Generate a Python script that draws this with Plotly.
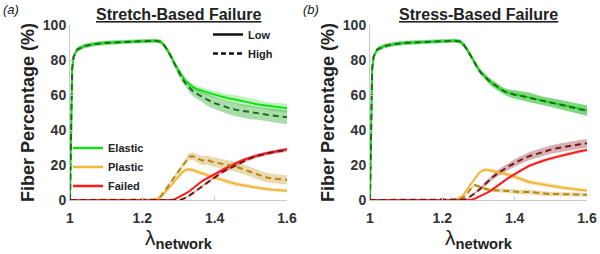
import numpy as np
import plotly.graph_objects as go

# ---------------- data ----------------
lam = [1.0, 1.003, 1.006, 1.01, 1.02, 1.04, 1.07, 1.1, 1.15, 1.2, 1.235, 1.25, 1.26, 1.27,
       1.28, 1.29, 1.3, 1.31, 1.32, 1.33, 1.34, 1.35, 1.36, 1.37, 1.38, 1.39, 1.4, 1.42,
       1.44, 1.46, 1.48, 1.5, 1.52, 1.54, 1.56, 1.58, 1.6]
x_ticks = [1, 1.2, 1.4, 1.6]
x_tick_text = ["1", "1.2", "1.4", "1.6"]
y_ticks = [0, 20, 40, 60, 80, 100]
components = ["Elastic", "Plastic", "Failed"]
levels = ["Low", "High"]
panel_titles = ["Stretch-Based Failure", "Stress-Based Failure"]
panel_tags = ["(a)", "(b)"]

# (a) Stretch-based failure
a_elastic_low = [0, 45, 75, 82, 86, 88, 89.2, 89.8, 90.4, 90.8, 91, 90.5, 88.5, 85.5, 82, 77.5,
                 74, 71, 68, 66, 64.5, 63.5, 62.7, 62.2, 61.5, 60.8, 60.2, 59.2, 58, 57.3, 56.2,
                 55.5, 54.6, 54, 53.2, 52.8, 52.4]
a_elastic_high = [0, 45, 75, 82, 86, 88, 89.2, 89.8, 90.4, 90.8, 91, 90.5, 88.5, 85.5, 81.5, 77,
                  73, 69.5, 66.5, 64, 62, 60.8, 59.5, 58.5, 57.3, 56.2, 55.3, 54, 52.5, 51.5,
                  50.8, 50, 49.5, 49, 48.3, 47.8, 47.3]
a_plastic_low = [0, 0, 0, 0, 0, 0, 0, 0, 0, 0, 0.2, 1.5, 3.5, 6, 8.5, 11, 13.5, 15.8, 17.3, 17.5,
                 17, 16.2, 15.6, 15, 14.2, 13.5, 12.8, 11.6, 10.2, 9.2, 8.3, 7.6, 7, 6.3, 5.9,
                 5.6, 5.3]
a_plastic_high = [0, 0, 0, 0, 0, 0, 0, 0, 0, 0, 0.3, 2, 4.5, 7.5, 10.5, 13.5, 16.5, 19.5, 22.5,
                  24.8, 25, 23.8, 23, 22.5, 22.8, 22, 21.5, 20.5, 19.8, 19, 17.5, 16.2, 14.5,
                  13, 12.3, 11.8, 11.5]
a_failed_low = [0, 0, 0, 0, 0, 0, 0, 0, 0, 0, 0, 0, 0, 0, 0, 0.5, 1.5, 2.5, 3.8, 5, 6.8, 8.5,
                10, 11.3, 12.6, 13.8, 14.8, 17, 19.3, 21.2, 23, 24.5, 25.6, 26.6, 27.5, 28.3, 29]
a_failed_high = [0, 0, 0, 0, 0, 0, 0, 0, 0, 0, 0, 0, 0, 0, 0, 0, 0, 0.5, 1.2, 2.5, 4, 5.5, 7,
                 8.7, 10.3, 11.8, 13, 15.8, 18, 20, 22.2, 24, 25.3, 26.5, 27.3, 28, 28.6]

# (b) Stress-based failure
b_elastic_low = [0, 45, 75, 82, 86, 88, 89.2, 89.8, 90.4, 90.8, 91, 90.5, 88.5, 85.5, 82, 78,
                 75, 72.3, 70, 68, 66.3, 64.8, 63.2, 62, 61.5, 61, 60.5, 59.8, 58.8, 57.6, 56.6,
                 55.6, 54.8, 54, 53, 52.2, 51.2]
b_elastic_high = [0, 45, 75, 82, 86, 88, 89.2, 89.8, 90.4, 90.8, 91, 90.5, 88.5, 85.5, 82, 77.8,
                  74.5, 72, 69.8, 68, 66.5, 65, 63.5, 62.3, 61.3, 60.7, 60.2, 59.4, 58.5, 57.4,
                  56.5, 55.8, 54.8, 53.7, 53, 52, 51]
b_plastic_low = [0, 0, 0, 0, 0, 0, 0, 0, 0, 0, 0.2, 1.5, 3.5, 6.5, 9.5, 12.5, 15, 16.8, 17.3, 17,
                 16.6, 16.2, 15.8, 15.2, 14.6, 14, 13.3, 11.6, 10.3, 9.5, 8.7, 8, 7.4, 6.8, 6.2,
                 5.8, 5.4]
b_plastic_high = [0, 0, 0, 0, 0, 0, 0, 0, 0, 0, 0, 0.5, 1.8, 4, 6.8, 8.5, 7.8, 6.8, 6, 5.7, 5.6,
                  5.6, 5.5, 5.3, 5.2, 5, 4.8, 4.5, 4.6, 4.2, 3.6, 3.4, 3.4, 3.3, 3.1, 3, 3]
b_failed_low = [0, 0, 0, 0, 0, 0, 0, 0, 0, 0, 0, 0, 0, 0, 0.2, 0.8, 1.7, 2.6, 3.6, 4.8, 6.2, 7.8,
                9.3, 10.8, 12.2, 13.5, 14.8, 17.2, 19.5, 21.2, 22.6, 23.8, 24.9, 26, 27, 27.8, 28.6]
b_failed_high = [0, 0, 0, 0, 0, 0, 0, 0, 0, 0, 0, 0, 0.3, 1, 2.2, 3.8, 5.5, 7.5, 9.5, 11.4, 13.2,
                 14.8, 16.3, 17.5, 18.8, 20, 21.2, 23.2, 25, 26.4, 27.7, 28.8, 29.7, 30.5, 31.2,
                 31.8, 32.4]

# spread (half-width of shaded band)
sd_elastic_low = [0, 0.5, 1, 1.2, 1.3, 1.3, 1.2, 1.2, 1.1, 1.1, 1.1, 1.2, 1.3, 1.3, 1.4, 1.4,
                  1.5, 1.5, 1.5, 1.6, 1.6, 1.7, 1.7, 1.8, 1.8, 1.9, 2.0, 2.1, 2.3, 2.5, 2.6, 2.4,
                  2.3, 2.2, 2.4, 2.5, 2.6]
sd_elastic_high = [0, 0.5, 1, 1.2, 1.3, 1.3, 1.2, 1.2, 1.1, 1.1, 1.1, 1.2, 1.3, 1.4, 1.5, 1.6,
                   1.8, 2.0, 2.2, 2.4, 2.6, 2.8, 3.0, 3.2, 3.4, 3.5, 3.6, 3.6, 3.7, 3.8, 3.9, 3.8,
                   3.6, 3.5, 3.7, 3.9, 4.0]
sd_elastic_b = [0, 0.5, 1, 1.2, 1.3, 1.3, 1.2, 1.2, 1.1, 1.1, 1.1, 1.2, 1.3, 1.3, 1.4, 1.4, 1.5,
                1.5, 1.6, 1.8, 2.0, 2.0, 1.8, 1.8, 2.0, 2.2, 2.4, 2.6, 2.8, 2.6, 2.4, 2.5, 2.6,
                2.7, 2.8, 2.9, 3.0]
sd_plastic_low = [0, 0, 0, 0, 0, 0, 0, 0, 0, 0, 0.1, 0.3, 0.5, 0.6, 0.7, 0.8, 0.9, 1.0, 1.0, 1.1,
                  1.1, 1.1, 1.2, 1.2, 1.2, 1.3, 1.3, 1.3, 1.3, 1.3, 1.3, 1.2, 1.2, 1.2, 1.1, 1.1, 1.0]
sd_plastic_high = [0, 0, 0, 0, 0, 0, 0, 0, 0, 0, 0.1, 0.4, 0.6, 0.8, 1.0, 1.2, 1.4, 1.6, 1.8,
                   2.0, 2.2, 2.4, 2.5, 2.6, 2.7, 2.7, 2.7, 2.7, 2.8, 2.8, 2.8, 2.7, 2.7, 2.7, 2.6,
                   2.6, 2.6]
sd_failed_low = [0, 0, 0, 0, 0, 0, 0, 0, 0, 0, 0, 0, 0, 0, 0, 0.2, 0.3, 0.4, 0.5, 0.5, 0.6, 0.6,
                 0.7, 0.7, 0.7, 0.8, 0.8, 0.8, 0.9, 0.9, 0.9, 1.0, 1.0, 1.0, 1.0, 1.0, 1.0]
sd_failed_high = [0, 0, 0, 0, 0, 0, 0, 0, 0, 0, 0, 0, 0.2, 0.3, 0.5, 0.7, 0.9, 1.1, 1.3, 1.5, 1.6,
                  1.7, 1.8, 1.9, 2.0, 2.0, 2.1, 2.2, 2.3, 2.3, 2.4, 2.4, 2.5, 2.5, 2.5, 2.5, 2.5]

# ---------------- style ----------------
line_col = {"Elastic": ("#12e012", "#1f6b1f"),
            "Plastic": ("#f2b63c", "#b8860b"),
            "Failed": ("#ff1a1a", "#7e1414")}
band_col = {"Elastic": ("rgba(60,220,60,0.35)", "rgba(40,170,40,0.40)"),
            "Plastic": ("rgba(235,185,70,0.35)", "rgba(200,160,60,0.40)"),
            "Failed": ("rgba(235,80,90,0.30)", "rgba(150,60,70,0.40)")}
FONT = "Liberation Sans, Arial, sans-serif"
DASH = "6px,4px"

panels = [
    {"Elastic": (a_elastic_low, a_elastic_high, sd_elastic_low, sd_elastic_high),
     "Plastic": (a_plastic_low, a_plastic_high, sd_plastic_low, sd_plastic_high),
     "Failed": (a_failed_low, a_failed_high, sd_failed_low, sd_failed_low)},
    {"Elastic": (b_elastic_low, b_elastic_high, sd_elastic_b, sd_elastic_b),
     "Plastic": (b_plastic_low, b_plastic_high, sd_plastic_low, sd_plastic_low),
     "Failed": (b_failed_low, b_failed_high, sd_failed_low, sd_failed_high)},
]

fig = go.Figure()
x = np.array(lam)
for p, data in enumerate(panels):
    xa = "x" if p == 0 else "x2"
    ya = "y" if p == 0 else "y2"
    for comp in components:
        lo, hi, sdl, sdh = data[comp]
        for k, (m, s) in enumerate(((lo, sdl), (hi, sdh))):
            m = np.array(m, float); s = np.array(s, float)
            up = np.clip(m + s, 0, 100); dn = np.clip(m - s, 0, 100)
            fig.add_trace(go.Scatter(
                x=np.concatenate([x, x[::-1]]), y=np.concatenate([up, dn[::-1]]),
                fill="toself", fillcolor=band_col[comp][k], line=dict(width=0),
                mode="lines", hoverinfo="skip", showlegend=False, xaxis=xa, yaxis=ya))
    for comp in components:
        lo, hi, _, _ = data[comp]
        fig.add_trace(go.Scatter(x=lam, y=lo, mode="lines",
                                 line=dict(color=line_col[comp][0], width=2),
                                 showlegend=False, name=f"{comp} Low", xaxis=xa, yaxis=ya))
    for comp in components:
        lo, hi, _, _ = data[comp]
        fig.add_trace(go.Scatter(x=lam, y=hi, mode="lines",
                                 line=dict(color=line_col[comp][1], width=2, dash=DASH),
                                 showlegend=False, name=f"{comp} High", xaxis=xa, yaxis=ya))

# legend entries
for comp in components:
    fig.add_trace(go.Scatter(x=[None], y=[None], mode="lines", name=comp,
                             line=dict(color=line_col[comp][0], width=2.5), legend="legend"))
for k, lv in enumerate(levels):
    fig.add_trace(go.Scatter(x=[None], y=[None], mode="lines", name=lv,
                             line=dict(color="#111111", width=2.5,
                                       dash="solid" if k == 0 else "5px,3px"),
                             legend="legend2"))

W, H = 600, 254
ML, MR, MT, MB = 70, 13, 25, 54
PW, PH = W - ML - MR, H - MT - MB
def px(v): return (v - ML) / PW
def py(v): return (H - MB - v) / PH

axis_common = dict(range=[1, 1.6], tickvals=x_ticks, ticktext=x_tick_text, automargin=False,
                   showline=True, linecolor="#c8c8c8", linewidth=1, ticks="inside",
                   ticklen=3, tickcolor="#c8c8c8", showgrid=False, zeroline=False,
                   tickfont=dict(family=FONT, size=14, color="#333333", weight="bold"),
                   ticklabelstandoff=5,
                   title=dict(text="λ<sub><b>network</b></sub>", standoff=2,
                              font=dict(family=FONT, size=21, color="#222222")))
yaxis_common = dict(range=[0, 100], tickvals=y_ticks, showline=True, linecolor="#c8c8c8",
                    linewidth=1, ticks="inside", ticklen=3, tickcolor="#c8c8c8",
                    showgrid=False, zeroline=False, automargin=False,
                    tickfont=dict(family=FONT, size=14, color="#333333", weight="bold"),
                    title=dict(text="<b>Fiber Percentage (%)</b>", standoff=3,
                               font=dict(family=FONT, size=18, color="#222222")))

fig.update_layout(
    width=W, height=H, margin=dict(l=ML, r=MR, t=MT, b=MB, autoexpand=False),
    paper_bgcolor="white", plot_bgcolor="white",
    xaxis=dict(domain=[px(70), px(287)], anchor="y", **axis_common),
    xaxis2=dict(domain=[px(370), px(587)], anchor="y2", **axis_common),
    yaxis=dict(domain=[0, 1], anchor="x", **yaxis_common),
    yaxis2=dict(domain=[0, 1], anchor="x2", **yaxis_common),
    legend=dict(x=px(68), y=py(167), xanchor="left", yanchor="middle",
                bgcolor="rgba(0,0,0,0)",
                font=dict(family=FONT, size=11, color="#222222", weight="bold")),
    legend2=dict(x=px(208), y=py(44), xanchor="left", yanchor="middle",
                 bgcolor="rgba(0,0,0,0)",
                 font=dict(family=FONT, size=11, color="#222222", weight="bold")),
    showlegend=True,
)

for p in range(2):
    cx = (70 + 287) / 2 + p * 300
    fig.add_annotation(text=f"<b><u>{panel_titles[p]}</u></b>", x=px(cx), y=py(15),
                       xref="paper", yref="paper", xanchor="center", yanchor="middle",
                       showarrow=False, font=dict(family=FONT, size=16, color="#222222"))
    fig.add_annotation(text=f"<i>{panel_tags[p]}</i>", x=px(p * 300 + 1), y=py(9),
                       xref="paper", yref="paper", xanchor="left", yanchor="middle",
                       showarrow=False, font=dict(family=FONT, size=13, color="#222222"))

fig.write_html("out.html",
               config={"displayModeBar": False},
               post_script="document.body.style.margin='0';"
                           "document.body.style.padding='0';"
                           "document.body.style.overflow='hidden';")
